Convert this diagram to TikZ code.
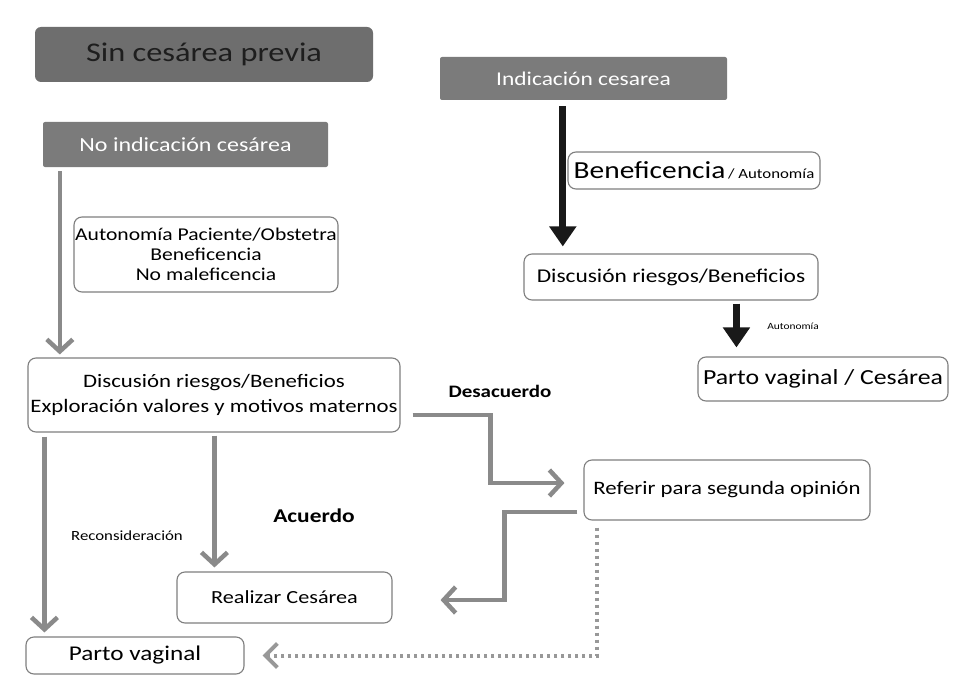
\documentclass[tikz,border=0pt]{standalone}
\usepackage{fontspec}
\setmainfont{Carlito}[FakeStretch=1.2]
\usetikzlibrary{arrows.meta}
\definecolor{hdrA}{HTML}{6E6E6E}
\definecolor{hdrB}{HTML}{7B7B7B}
\definecolor{boxc}{HTML}{7F7F7F}
\definecolor{arrc}{HTML}{8A8A8A}
\definecolor{dotc}{HTML}{989898}
\definecolor{hdrtxt}{HTML}{1E1E1E}
\begin{document}
\begin{tikzpicture}[x=1pt,y=-1pt,
  box/.style={draw=boxc, line width=1.1pt, rounded corners=8pt, fill=white, align=center, inner sep=0pt, text=black},
  hdrbox/.style={draw=none, inner sep=0pt, rounded corners=2pt},
  garrow/.style={draw=arrc, line width=4.5pt, -{Straight Barb[length=12pt,width=26pt,line width=4.5pt]}},
  darrow/.style={draw=dotc, line width=4pt, dash pattern=on 3pt off 4pt, -{Straight Barb[length=12pt,width=24pt,line width=4pt]}},
  barrow/.style={draw=black!90, line width=7pt, -{Triangle[length=20pt,width=26pt]}},
  lbl/.style={inner sep=0pt, text=black}
]
\useasboundingbox[fill=white] (0,0) rectangle (963,682);

% headers
\node[hdrbox, fill=hdrA, minimum width=338pt, minimum height=55pt, rounded corners=6pt,
      font=\fontsize{27}{30}\selectfont, text=hdrtxt] (sin) at (204,54.5) {Sin cesárea previa};
\node[hdrbox, fill=hdrB, minimum width=285pt, minimum height=45pt,
      font=\fontsize{20}{23}\selectfont, text=white] (noind) at (185.5,144.5) {No indicación cesárea};
\node[hdrbox, fill=hdrB, minimum width=287pt, minimum height=43pt,
      font=\fontsize{19.5}{22}\selectfont, text=white] (ind) at (583.5,78.5) {Indicación cesarea};

% boxes
\node[box, minimum width=264pt, minimum height=75pt, font=\fontsize{18}{20}\selectfont] (auto) at (206,254.5)
  {Autonomía Paciente/Obstetra\\Beneficencia\\No maleficencia};
\node[box, minimum width=252pt, minimum height=37pt] (benef) at (694,170.5)
  {{\fontsize{24.5}{26}\selectfont Beneficencia} {\fontsize{14}{16}\selectfont / Autonomía}};
\node[box, minimum width=294pt, minimum height=46pt, font=\fontsize{19.5}{22}\selectfont] (disc2) at (671,277)
  {Discusión riesgos/Beneficios};
\node[box, minimum width=250pt, minimum height=44pt, font=\fontsize{21.5}{24}\selectfont] (pvc) at (823,379)
  {Parto vaginal / Cesárea};
\node[box, minimum width=372pt, minimum height=74pt, font=\fontsize{19}{25}\selectfont] (disc1) at (214,395)
  {Discusión riesgos/Beneficios\\Exploración valores y motivos maternos};
\node[box, minimum width=286pt, minimum height=60pt, font=\fontsize{19}{21}\selectfont] (ref) at (727,490)
  {Referir para segunda opinión};
\node[box, minimum width=215pt, minimum height=51pt, font=\fontsize{18.5}{20}\selectfont] (realizar) at (284.5,597.5)
  {Realizar Cesárea};
\node[box, minimum width=218pt, minimum height=37pt, font=\fontsize{21}{23}\selectfont] (pv) at (135,655.5)
  {Parto vaginal};

% labels
\node[lbl, font=\bfseries\fontsize{17.5}{19}\selectfont] (desac) at (500,391) {Desacuerdo};
\node[lbl, font=\bfseries\fontsize{19.5}{21}\selectfont] (acu) at (314,516) {Acuerdo};
\node[lbl, font=\fontsize{14}{15}\selectfont] (recon) at (127,536) {Reconsideración};
\node[lbl, font=\fontsize{9.5}{11}\selectfont] (autl) at (793,326) {Autonomía};

% connectors
\draw[barrow, shorten <=6pt, shorten >=7pt] ([xshift=123pt]ind.south west) -- ([xshift=123pt]ind.south west |- disc2.north);
\draw[barrow, shorten <=3pt, shorten >=9pt] ([xshift=213pt]disc2.south west) -- ([xshift=213pt]disc2.south west |- pvc.north);

\draw[garrow, shorten <=4pt, shorten >=3pt] ([xshift=17pt]noind.south west) -- ([xshift=17pt]noind.south west |- disc1.north);
\draw[garrow, shorten <=3pt, shorten >=4pt] ([xshift=187pt]disc1.south west) -- ([xshift=187pt]disc1.south west |- realizar.north);
\draw[garrow, shorten <=4pt, shorten >=4pt] ([xshift=17pt]disc1.south west) -- ([xshift=17pt]disc1.south west |- pv.north);

\draw[garrow] ([xshift=12pt,yshift=-20pt]disc1.east) -- ++(78,0) |- ([xshift=-19pt,yshift=7pt]ref.west);
\draw[garrow] ([xshift=-6pt,yshift=-22pt]ref.west) -- ++(-73,0) |- ([xshift=48pt,yshift=-2.5pt]realizar.east);
\draw[darrow] ([xshift=14pt,yshift=-7pt]ref.south west) |- ([xshift=18pt]pv.east);
\end{tikzpicture}
\end{document}
